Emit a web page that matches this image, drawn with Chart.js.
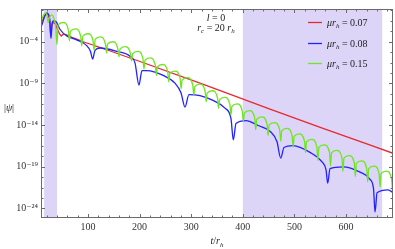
<!DOCTYPE html>
<html><head><meta charset="utf-8">
<script src="https://cdn.jsdelivr.net/npm/chart.js@4/dist/chart.umd.min.js"></script>
<style>html,body{margin:0;padding:0;background:#fff;}canvas{display:block;}</style>
</head><body>
<canvas id="c" width="395" height="249"></canvas>
<script>
// ---- data (t / r_h and log10 |psi|) ----
const tRed = [9, 14.7, 20.5, 25.4, 27.7, 30.8, 36, 42.4, 49, 52.1, 71.5, 90.9, 136.2, 200.8, 317, 452.7, 555.4, 691];
const log10PsiRed = [-2.04, -1.0, -0.65, -1.34, -3.31, -1.69, -1.81, -2.73, -3.31, -3.08, -3.54, -4.0, -4.96, -6.37, -8.97, -12.08, -14.39, -17.39];

const tBlue = [9, 20.5, 26, 28.3, 30.5, 32.8, 38, 45.7, 58.7, 78, 97.5, 104.8, 109.1, 113.6, 123.3, 155.6, 181.4, 191.1, 198.8, 204.6, 213.8, 245.9, 268.6, 280.2, 288, 295.6, 317, 342.2, 365.5, 377.1, 381.6, 386.8, 406.2, 429.5, 452.7, 466.3, 473.4, 479.8, 497.3, 530.2, 553.5, 561.2, 564.5, 569, 594.2, 627.1, 646.5, 653.3, 656.2, 660.1, 681.4, 691];
const log10PsiBlue = [-2.27, -0.54, -1.3, -3.6, -1.9, -1.49, -1.58, -2.5, -3.31, -3.77, -4.46, -5.15, -6.08, -5.04, -4.75, -5.15, -5.73, -6.54, -9.2, -7.46, -7.46, -8.04, -8.97, -10.12, -11.85, -10.35, -10.47, -11.04, -11.97, -13.24, -15.78, -13.81, -13.47, -14.05, -14.74, -16.01, -17.97, -16.7, -16.47, -17.28, -18.43, -19.36, -20.97, -19.24, -19.01, -19.65, -20.51, -21.67, -24.44, -22.13, -21.78, -22.13];

const tGreen = [9, 13, 17, 20.5, 23, 25.5, 30, 34, 37.5,
  40, 42, 52, 62,   64, 66, 76, 86,   88, 90, 100, 110,   112, 114, 124, 134,
  136, 138, 148, 158,   160, 162, 172, 182.5,   184.5, 186.5, 196.5, 206.5,
  208.5, 210.5, 220.5, 230.5,   232.5, 234.5, 244.5, 254.5,   256.5, 258.5, 268.5, 278.5,
  280.5, 282.5, 292.5, 303,   305, 307, 317, 327,   329, 331, 341, 351,
  353, 355, 365, 375,   377, 379, 389, 399,   401, 403, 413, 423,
  425, 427, 437, 447,   449, 451, 461, 471.5,   473.5, 475.5, 485.5, 495.5,
  497.5, 499.5, 509.5, 519.5,   521.5, 523.5, 533.5, 543.5,   545.5, 547.5, 557.5, 568,
  570, 572, 582, 592,   594, 596, 606, 616,   618, 620, 630, 640,
  642, 644, 654, 664,   666, 668, 678, 688,   690];
const log10PsiGreen = [-1.58, -0.9, -0.54, -0.85, -1.69, -1.1, -0.77, -1.2, -2.2,
  -4.35, -1.99, -1.69, -2.57,   -3.9, -2.76, -2.46, -3.34,   -4.5, -3.34, -3.04, -3.92,   -5.0, -3.72, -3.42, -4.30,
  -5.35, -4.30, -4.0, -4.88,   -5.8, -4.88, -4.58, -5.46,   -6.3, -5.45, -5.15, -6.03,
  -7.25, -6.24, -5.94, -6.82,   -8.04, -7.03, -6.73, -7.61,   -8.83, -7.82, -7.52, -8.40,
  -9.62, -8.61, -8.31, -9.19,   -10.4, -9.39, -9.09, -9.97,   -11.19, -10.18, -9.88, -10.76,
  -11.98, -10.97, -10.67, -11.55,   -12.77, -11.76, -11.46, -12.34,   -13.56, -12.56, -12.26, -13.14,
  -14.54, -13.31, -13.01, -13.89,   -15.25, -14.0, -13.70, -14.58,   -15.95, -14.69, -14.39, -15.27,
  -16.63, -15.36, -15.06, -15.94,   -17.29, -16.02, -15.72, -16.60,   -18.25, -16.68, -16.38, -17.26,
  -18.9, -17.33, -17.03, -17.91,   -19.55, -17.96, -17.66, -18.54,   -20.18, -18.6, -18.30, -19.18,
  -20.81, -19.22, -18.92, -19.80,   -21.43, -19.83, -19.53, -20.41,   -21.9];

const muValues = ['0.07', '0.08', '0.15'];
const xTickValues = [100, 200, 300, 400, 500, 600];
const yTickValues = [1e-24, 1e-19, 1e-14, 1e-9, 1e-4];
const yTickLabels = ['10\u207B\u00B2\u2074', '10\u207B\u00B9\u2079', '10\u207B\u00B9\u2074', '10\u207B\u2079', '10\u207B\u2074'];
const shadedBands = [[15, 40], [400, 670]];

// ---- styling ----
const SERIF = '"Liberation Serif", "DejaVu Serif", serif';
const COLORS = ['#e8282c', '#2222ff', '#6ee622'];
const FRAME = '#6a6a6a';

function pts(ts, ls) { return ts.map((t, i) => ({ x: t, y: Math.pow(10, ls[i]) })); }

function rich(ctx, parts, x, y, align) {
  const size = 10;
  const w = parts.reduce((s, p) => {
    ctx.font = (p.i ? 'italic ' : '') + (p.sub ? 7 : size) + 'px ' + SERIF;
    return s + ctx.measureText(p.t).width;
  }, 0);
  let cx = align === 'center' ? x - w / 2 : (align === 'right' ? x - w : x);
  ctx.textBaseline = 'alphabetic';
  ctx.textAlign = 'left';
  parts.forEach(p => {
    ctx.font = (p.i ? 'italic ' : '') + (p.sub ? 7 : size) + 'px ' + SERIF;
    ctx.fillText(p.t, cx, y + (p.sub ? 2.5 : 0));
    cx += ctx.measureText(p.t).width;
  });
}

const decor = {
  id: 'decor',
  beforeDatasetsDraw(chart) {
    const { ctx, chartArea: a, scales: { x } } = chart;
    ctx.save();
    ctx.fillStyle = '#ddd5f8';
    shadedBands.forEach(([t0, t1]) => {
      const x0 = x.getPixelForValue(t0), x1 = x.getPixelForValue(t1);
      ctx.fillRect(x0, a.top, x1 - x0, a.bottom - a.top);
    });
    ctx.restore();
  },
  afterDatasetsDraw(chart) {
    const { ctx, chartArea: a, scales: { x, y } } = chart;
    ctx.save();
    ctx.strokeStyle = FRAME; ctx.lineWidth = 1;
    ctx.strokeRect(a.left + 0.5, a.top + 0.5, a.right - a.left - 1, a.bottom - a.top - 1);
    ctx.beginPath();
    for (let v = 20; v <= 680; v += 20) {
      const px = Math.round(x.getPixelForValue(v)) + 0.5;
      const L = v % 100 === 0 ? 4 : 2.5;
      ctx.moveTo(px, a.bottom); ctx.lineTo(px, a.bottom - L);
      ctx.moveTo(px, a.top); ctx.lineTo(px, a.top + L);
    }
    for (let j = -3; j <= 16; j++) {
      const e = -4 - 1.25 * j;
      if (e > -0.07 || e < -25.13) continue;
      const py = Math.round(y.getPixelForValue(Math.pow(10, e))) + 0.5;
      const L = j % 4 === 0 ? 4 : 2.5;
      ctx.moveTo(a.left, py); ctx.lineTo(a.left + L, py);
      ctx.moveTo(a.right, py); ctx.lineTo(a.right - L, py);
    }
    ctx.stroke();

    ctx.fillStyle = '#222';
    const ax = x.getPixelForValue(348);
    rich(ctx, [{ t: 'l', i: 1 }, { t: ' = 0' }], ax, 20.5, 'center');
    rich(ctx, [{ t: 'r', i: 1 }, { t: 'c', i: 1, sub: 1 }, { t: ' = 20 ' }, { t: 'r', i: 1 }, { t: 'h', i: 1, sub: 1 }], ax, 30.5, 'center');

    const ly = [22, 43, 63];
    chart.data.datasets.forEach((ds, i) => {
      ctx.strokeStyle = ds.borderColor; ctx.lineWidth = 1.3;
      ctx.beginPath(); ctx.moveTo(308, ly[i] + 0.5); ctx.lineTo(322, ly[i] + 0.5); ctx.stroke();
      ctx.fillStyle = '#222';
      rich(ctx, [{ t: '\u03BCr', i: 1 }, { t: 'h', i: 1, sub: 1 }, { t: ' = ' + muValues[i] }], 327, ly[i] + 3.5, 'left');
    });

    rich(ctx, [{ t: 't', i: 1 }, { t: '/' }, { t: 'r', i: 1 }, { t: 'h', i: 1, sub: 1 }], (a.left + a.right) / 2, 244, 'center');
    rich(ctx, [{ t: '|' }, { t: '\u03C8', i: 1 }, { t: '|' }], 9, 110.5, 'center');
    ctx.restore();
  }
};

new Chart(document.getElementById('c'), {
  type: 'line',
  data: {
    datasets: [
      { label: '\u03BCr_h = ' + muValues[0], data: pts(tRed, log10PsiRed), borderColor: COLORS[0], order: 3 },
      { label: '\u03BCr_h = ' + muValues[1], data: pts(tBlue, log10PsiBlue), borderColor: COLORS[1], order: 2 },
      { label: '\u03BCr_h = ' + muValues[2], data: pts(tGreen, log10PsiGreen), borderColor: COLORS[2], order: 1 }
    ]
  },
  options: {
    responsive: false,
    animation: false,
    parsing: false,
    layout: { padding: { top: 0, right: 2, left: 0, bottom: 0 } },
    elements: {
      line: { borderWidth: 1.3, cubicInterpolationMode: 'monotone', fill: false },
      point: { radius: 0 }
    },
    plugins: { legend: { display: false }, tooltip: { enabled: false } },
    scales: {
      x: {
        type: 'linear', min: 9, max: 691,
        grid: { display: false, drawTicks: false }, border: { display: false },
        ticks: { font: { family: SERIF, size: 10 }, color: '#333', padding: 3, maxRotation: 0, autoSkip: false },
        afterBuildTicks: s => { s.ticks = xTickValues.map(v => ({ value: v })); },
        afterFit: s => { s.height = 31; }
      },
      y: {
        type: 'logarithmic', min: Math.pow(10, -25.13), max: Math.pow(10, -0.07),
        grid: { display: false, drawTicks: false }, border: { display: false },
        ticks: {
          font: { family: SERIF, size: 10 }, color: '#333', padding: 3, autoSkip: false,
          callback: (v) => {
            const i = yTickValues.findIndex(t => Math.abs(Math.log10(t) - Math.log10(v)) < 0.01);
            return i >= 0 ? yTickLabels[i] : '';
          }
        },
        afterBuildTicks: s => { s.ticks = yTickValues.map(v => ({ value: v })); },
        afterFit: s => { s.width = 41; }
      }
    }
  },
  plugins: [decor]
});
</script>
</body></html>
